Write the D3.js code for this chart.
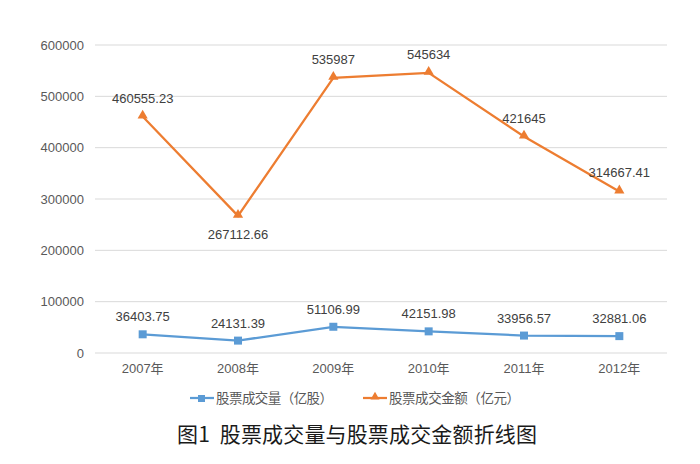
<!DOCTYPE html>
<html><head><meta charset="utf-8">
<script src="https://cdn.jsdelivr.net/npm/d3@7"></script>
<style>body{margin:0;background:#fff;font-family:"Liberation Sans","Noto Sans CJK SC",sans-serif;}</style>
</head><body><svg id="c" width="700" height="464"></svg>
<script>
const categories = ["2007年","2008年","2009年","2010年","2011年","2012年"];
const volume = [36403.75, 24131.39, 51106.99, 42151.98, 33956.57, 32881.06];
const amount = [460555.23, 267112.66, 535987, 545634, 421645, 314667.41];
const volumeLabels = ["36403.75","24131.39","51106.99","42151.98","33956.57","32881.06"];
const amountLabels = ["460555.23","267112.66","535987","545634","421645","314667.41"];
const yTicks = [0,100000,200000,300000,400000,500000,600000];
const seriesNames = ["股票成交量（亿股）","股票成交金额（亿元）"];
const title = "图1  股票成交量与股票成交金额折线图";

const svg = d3.select("#c");
const font = '"Liberation Sans","Noto Sans CJK SC",sans-serif';
const cjk = '"Noto Sans CJK SC",sans-serif';
const x = d3.scaleBand().domain(categories).range([95,667]);
const y = d3.scaleLinear().domain([0,600000]).range([353,45]);
const cx = d => x(d) + x.bandwidth()/2;

// grid
svg.append("g").selectAll("line").data(yTicks).join("line")
  .attr("x1",95).attr("x2",667).attr("y1",d=>y(d)).attr("y2",d=>y(d))
  .attr("stroke","#d9d9d9").attr("stroke-width",1);

// y axis labels
svg.append("g").selectAll("text").data(yTicks).join("text")
  .attr("x",84).attr("y",d=>y(d)).attr("dy","0.35em").attr("text-anchor","end")
  .attr("font-size",13).attr("fill","#595959").attr("font-family",font).text(d=>d);

// x labels
svg.append("g").selectAll("text").data(categories).join("text")
  .attr("x",d=>cx(d)).attr("y",373).attr("text-anchor","middle")
  .attr("font-size",13).attr("fill","#595959").attr("font-family",font).text(d=>d);

const blue="#5b9bd5", orange="#ed7d31";
const line = d3.line().x((d,i)=>cx(categories[i])).y(d=>y(d));

svg.append("path").datum(volume).attr("d",line).attr("fill","none").attr("stroke",blue).attr("stroke-width",2.25);
svg.append("path").datum(amount).attr("d",line).attr("fill","none").attr("stroke",orange).attr("stroke-width",2.25);

svg.append("g").selectAll("rect").data(volume).join("rect")
  .attr("x",(d,i)=>cx(categories[i])-4).attr("y",d=>y(d)-4).attr("width",8).attr("height",8).attr("fill",blue);
const tri = d3.symbol().type(d3.symbolTriangle).size(45);
svg.append("g").selectAll("path").data(amount).join("path")
  .attr("d",tri).attr("transform",(d,i)=>`translate(${cx(categories[i])},${y(d)-1})`).attr("fill",orange);

// labels
svg.append("g").selectAll("text").data(volume).join("text")
  .attr("x",(d,i)=>cx(categories[i])).attr("y",d=>y(d)-13).attr("text-anchor","middle")
  .attr("font-size",13).attr("fill","#404040").attr("font-family",font).text((d,i)=>volumeLabels[i]);
svg.append("g").selectAll("text").data(amount).join("text")
  .attr("x",(d,i)=>cx(categories[i])).attr("y",(d,i)=> i===1 ? y(d)+23 : y(d)-14).attr("text-anchor","middle")
  .attr("font-size",13).attr("fill","#404040").attr("font-family",font).text((d,i)=>amountLabels[i]);

// legend
const lg = svg.append("g");
lg.append("line").attr("x1",190).attr("x2",214).attr("y1",398).attr("y2",398).attr("stroke",blue).attr("stroke-width",2.25);
lg.append("rect").attr("x",198).attr("y",395).attr("width",7).attr("height",7).attr("fill",blue);
lg.append("text").attr("x",216).attr("y",398).attr("dy","0.35em").attr("font-size",13.5).attr("fill","#595959").attr("font-family",cjk)
  .attr("textLength",117).attr("lengthAdjust","spacing").text(seriesNames[0]);
lg.append("line").attr("x1",363).attr("x2",387).attr("y1",398).attr("y2",398).attr("stroke",orange).attr("stroke-width",2.25);
lg.append("path").attr("d",d3.symbol().type(d3.symbolTriangle).size(35)).attr("transform","translate(375,397)").attr("fill",orange);
lg.append("text").attr("x",389).attr("y",398).attr("dy","0.35em").attr("font-size",13.5).attr("fill","#595959").attr("font-family",cjk)
  .attr("textLength",131).attr("lengthAdjust","spacing").text(seriesNames[1]);

svg.append("text").attr("x",177).attr("y",435).attr("dy","0.35em").attr("font-size",21)
  .attr("xml:space","preserve").style("white-space","pre")
  .attr("textLength",360).attr("lengthAdjust","spacing")
  .attr("fill","#1a1a1a").attr("font-family",cjk).text(title);
</script></body></html>
